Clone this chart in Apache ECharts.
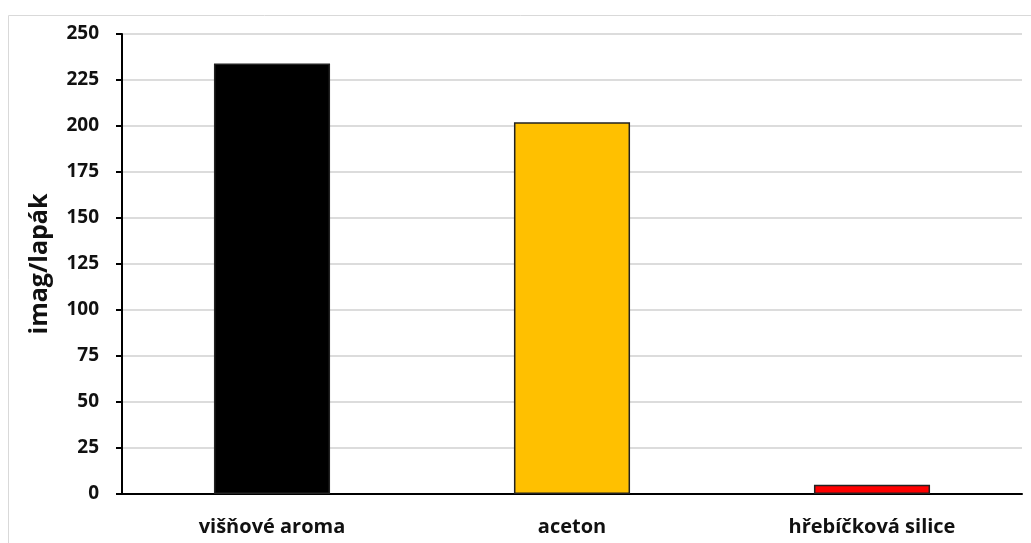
<!DOCTYPE html>
<html><head><meta charset="utf-8">
<script src="https://cdn.jsdelivr.net/npm/echarts@6/dist/echarts.min.js"></script>
<style>html,body{margin:0;padding:0;background:#fff}#c{width:1031px;height:543px}</style>
</head><body><div id="c"></div>
<script>
const categories = ['višňové aroma', 'aceton', 'hřebíčková silice'];
const values = [234, 202, 5];
const colors = ['#000000', '#FFC000', '#FF0000'];
const yTicks = { min: 0, max: 250, interval: 25 };

const chart = echarts.init(document.getElementById('c'));
chart.setOption({
  animation: false,
  graphic: [{ type: 'rect', shape: { x: 8.5, y: 15.5, width: 1030, height: 540 }, style: { fill: 'none', stroke: '#d9d9d9', lineWidth: 1 } }],
  grid: { left: 122, right: 9, top: 34, bottom: 49 },
  xAxis: {
    type: 'category', data: categories,
    axisLine: { lineStyle: { color: '#000', width: 2 } },
    axisTick: { show: false },
    axisLabel: { color: '#111', fontFamily: 'Open Sans', fontWeight: 'bold', fontSize: 20, margin: 23 }
  },
  yAxis: {
    type: 'value', min: yTicks.min, max: yTicks.max, interval: yTicks.interval,
    name: 'imag/lapák', nameLocation: 'middle', nameGap: 70,
    nameTextStyle: { color: '#111', fontFamily: 'Open Sans', fontWeight: 'bold', fontSize: 25 },
    axisLine: { show: true, lineStyle: { color: '#000', width: 2 } },
    axisTick: { show: true, length: 6, lineStyle: { color: '#000', width: 2 } },
    axisLabel: { color: '#111', fontFamily: 'Open Sans', fontWeight: 'bold', fontSize: 19, margin: 23 },
    splitLine: { lineStyle: { color: '#d0d0d0', width: 1.5 } }
  },
  series: [{
    type: 'bar', barWidth: '38.7%',
    data: values.map((v, i) => ({ value: v, itemStyle: { color: colors[i] } })),
    itemStyle: { borderColor: '#222', borderWidth: 1.5 }
  }]
});
</script></body></html>
